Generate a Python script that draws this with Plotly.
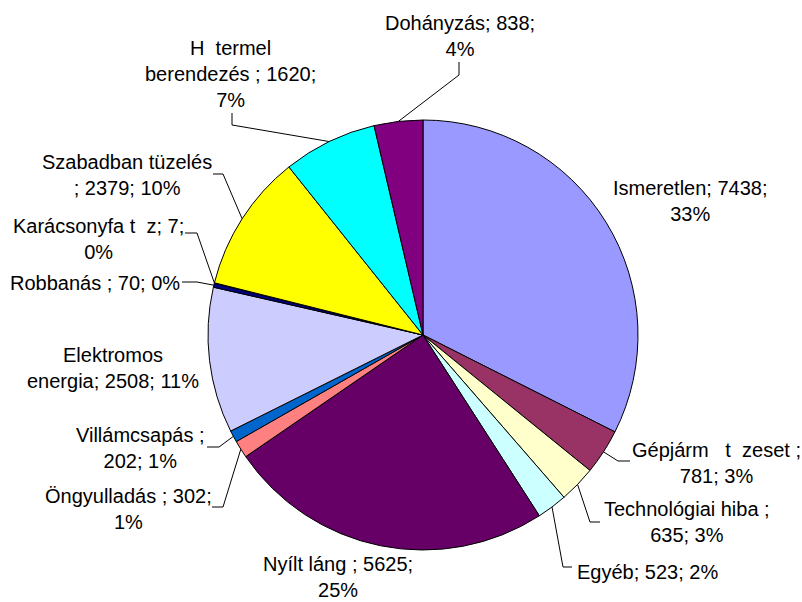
import math
import plotly.graph_objects as go

NB = "\u00a0"

# ---- data ----
CATEGORIES = [
    "Ismeretlen",
    "Gépjárm" + NB * 3 + "t" + NB * 2 + "zeset ",
    "Technológiai hiba ",
    "Egyéb",
    "Nyílt láng ",
    "Öngyulladás ",
    "Villámcsapás ",
    "Elektromos<br>energia",
    "Robbanás ",
    "Karácsonyfa t" + NB * 2 + "z",
    "Szabadban tüzelés<br>",
    "H" + NB * 2 + "termel<br>berendezés ",
    "Dohányzás",
]
VALUES = [7438, 781, 635, 523, 5625, 302, 202, 2508, 70, 7, 2379, 1620, 838]
PERCENT_LABELS = ["33%", "3%", "3%", "2%", "25%", "1%", "1%", "11%", "0%", "0%", "10%", "7%", "4%"]
COLORS = ["#9999FF", "#993366", "#FFFFCC", "#CCFFFF", "#660066", "#FF8080", "#0066CC",
          "#CCCCFF", "#000080", "#FF00FF", "#FFFF00", "#00FFFF", "#800080"]

# ---- layout / label placement (pixels) ----
W, H = 802, 602
CX, CY, R = 423, 335, 215
TEMPLATES = [
    "{0}; {1};<br>{2}", "{0};<br>{1}; {2}", "{0};<br>{1}; {2}", "{0}; {1}; {2}",
    "{0}; {1};<br>{2}", "{0}; {1};<br>{2}", "{0};<br>{1}; {2}", "{0}; {1}; {2}",
    "{0}; {1}; {2}", "{0}; {1};<br>{2}", "{0}; {1}; {2}", "{0}; {1};<br>{2}",
    "{0}; {1};<br>{2}",
]
LABEL_POS = [
    (690, 201), (716, 463), (687, 522), (647, 572), (338, 577), (128, 509),
    (140, 448), (113, 368), (95, 283), (98, 239), (127, 175), (230, 74), (460, 36),
]
# leader line: (label-side start, elbow) or None
LEADERS = [
    None,
    ((630, 461), (618, 461)),
    ((600, 522), (590, 522)),
    ((572, 567), (563, 567)),
    None,
    ((212, 507), (223, 507)),
    ((207, 447), (219, 447)),
    None,
    ((182, 282), (197, 282)),
    ((185, 233), (197, 233)),
    ((213, 174), (223, 174)),
    ((232, 113), (232, 125)),
    ((459, 62), (459, 75)),
]

FONT = "Liberation Sans, Arial, sans-serif"


def px(x):
    return x / W


def py(y):
    return 1 - y / H


fig = go.Figure(go.Pie(
    labels=[c.replace("<br>", " ") for c in CATEGORIES],
    values=VALUES,
    sort=False,
    direction="clockwise",
    rotation=0,
    marker=dict(colors=COLORS, line=dict(color="#000000", width=1)),
    textinfo="none",
    hoverinfo="label+value+percent",
    showlegend=False,
    domain=dict(x=[px(CX - R), px(CX + R)], y=[py(CY + R), py(CY - R)]),
))

total = sum(VALUES)
cum = 0
annotations = []
shapes = []
for i, v in enumerate(VALUES):
    mid = 2 * math.pi * (cum + v / 2) / total
    cum += v
    ex = CX + R * math.sin(mid)
    ey = CY - R * math.cos(mid)
    lx, ly = LABEL_POS[i]
    annotations.append(dict(
        x=px(lx), y=py(ly), xref="paper", yref="paper",
        text=TEMPLATES[i].format(CATEGORIES[i], VALUES[i], PERCENT_LABELS[i]),
        showarrow=False, xanchor="center", yanchor="middle", align="center",
        font=dict(family=FONT, size=20, color="#000000"),
    ))
    if LEADERS[i] is not None:
        (x0, y0), (x1, y1) = LEADERS[i]
        path = "M {} {} L {} {} L {} {}".format(px(x0), py(y0), px(x1), py(y1), px(ex), py(ey))
        shapes.append(dict(type="path", path=path, xref="paper", yref="paper",
                           line=dict(color="#000000", width=1)))

fig.update_layout(
    width=W, height=H,
    margin=dict(l=0, r=0, t=0, b=0),
    paper_bgcolor="#FFFFFF",
    plot_bgcolor="#FFFFFF",
    annotations=annotations,
    shapes=shapes,
)

fig.write_html("out.html", config={"displayModeBar": False},
               post_script="document.body.style.margin='0';document.body.style.overflow='hidden';")
